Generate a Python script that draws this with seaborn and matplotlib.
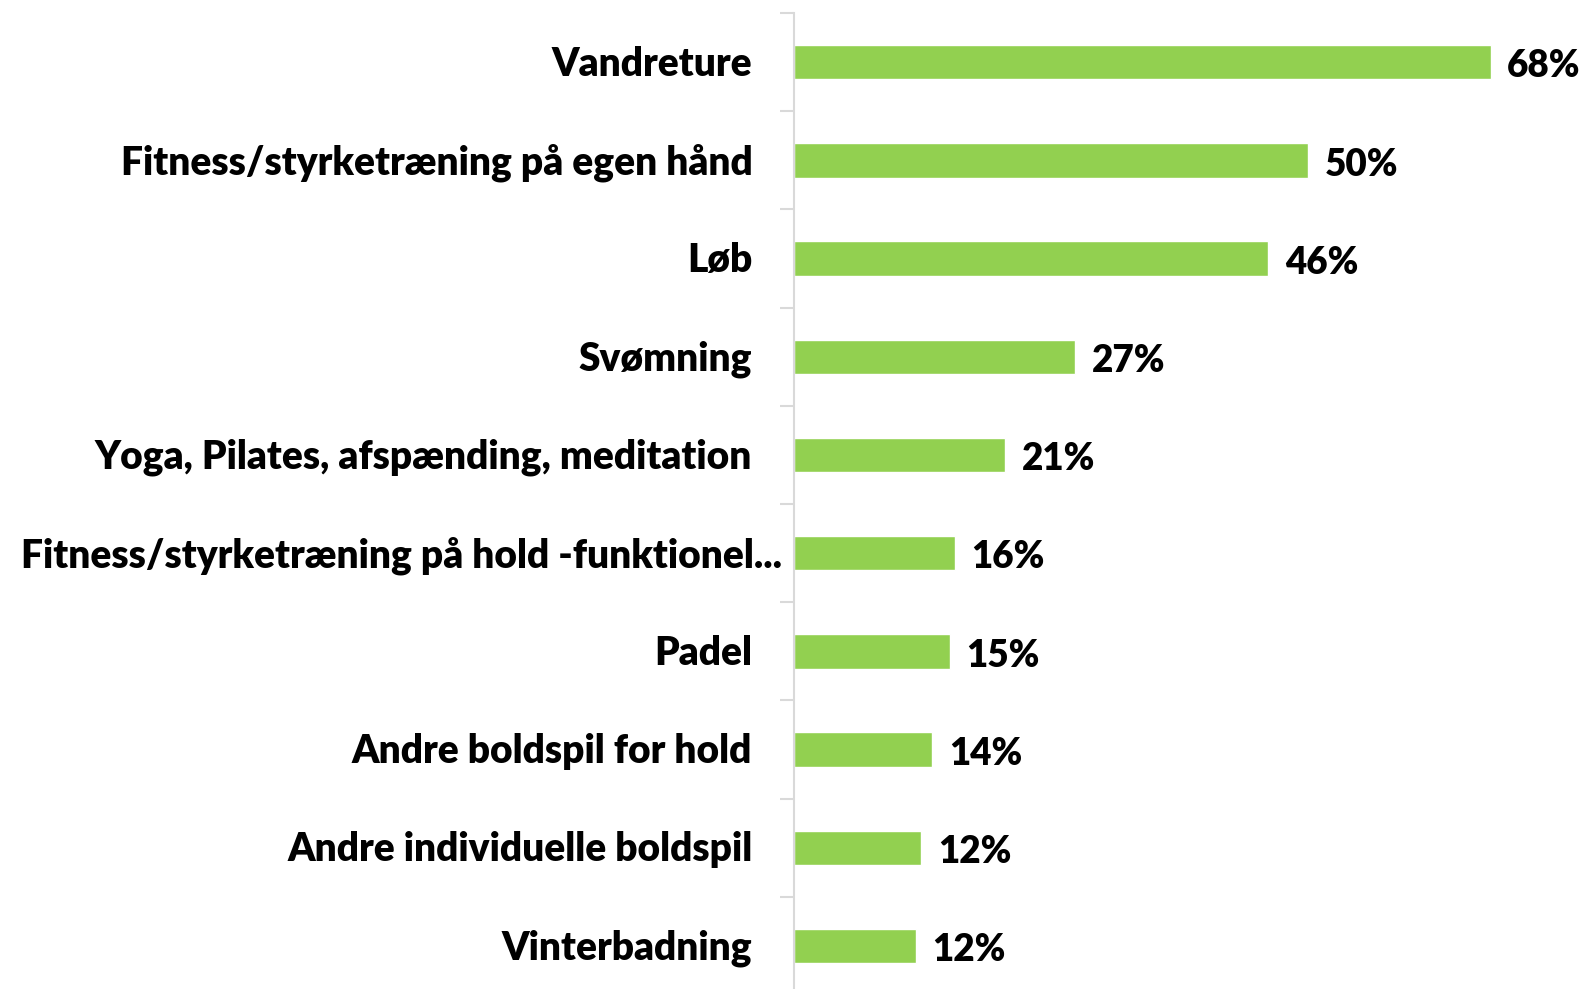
import numpy as np
import pandas as pd
import seaborn as sns
import matplotlib.pyplot as plt
import matplotlib.transforms as mtransforms

# survey data (share of respondents, %)
activities = [
    "Vandreture",
    "Fitness/styrketræning på egen hånd",
    "Løb",
    "Svømning",
    "Yoga, Pilates, afspænding, meditation",
    "Fitness/styrketræning på hold -funktionel...",
    "Padel",
    "Andre boldspil for hold",
    "Andre individuelle boldspil",
    "Vinterbadning",
]
shares = [68.0, 50.2, 46.3, 27.4, 20.6, 15.7, 15.2, 13.5, 12.4, 11.9]

df = pd.DataFrame({"activity": activities, "share": shares})

sns.set_theme(style="white")
plt.rcParams['font.family'] = ['Lato', 'DejaVu Sans']

fig = plt.figure(figsize=(15.88, 9.89), dpi=100)
ax = fig.add_axes([0.5, -0.0061, 0.5, 0.9929])

sns.barplot(data=df, x="share", y="activity", orient="h", color="#92D050",
            saturation=1, width=0.35, ax=ax)

ax.set_xlim(0, 77.5)
ax.set_ylim(len(activities) - 0.5, -0.5)
ax.set_xlabel("")
ax.set_ylabel("")
ax.set_xticks([])

for s in ["top", "right", "bottom"]:
    ax.spines[s].set_visible(False)
ax.spines["left"].set_color("#D9D9D9")
ax.spines["left"].set_linewidth(1.5)

# tick marks between categories
ax.set_yticks(np.arange(-0.5, len(activities), 1), minor=True)
ax.tick_params(axis="y", which="minor", length=10, width=1.5, color="#D9D9D9", left=True)
ax.tick_params(axis="y", which="major", length=0, pad=30)
for lab in ax.get_yticklabels():
    lab.set_fontsize(28)
    lab.set_fontweight("heavy")
    lab.set_color("black")
    if lab.get_text().endswith("..."):
        lab.set_transform(lab.get_transform() + mtransforms.ScaledTranslation(30 / 100, 1.5 / 100, fig.dpi_scale_trans))
    else:
        lab.set_transform(lab.get_transform() + mtransforms.ScaledTranslation(0, 1.5 / 100, fig.dpi_scale_trans))

labels = ax.bar_label(ax.containers[0], labels=[f"{v:.0f}%" for v in shares], padding=12,
                      fontsize=26.5, fontweight="heavy", color="black")
for t in labels:
    t.xyann = (12, -3)

fig.savefig("out.png", dpi=100)
